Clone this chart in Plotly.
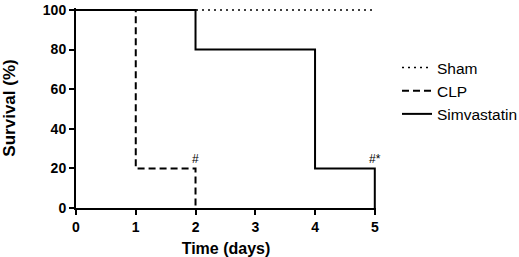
import plotly.graph_objects as go

# Data (step survival curves)
sham_days = [0, 5]
sham_surv = [100, 100]

clp_days = [0, 1, 2]
clp_surv = [100, 20, 0]

simva_days = [0, 2, 4, 5]
simva_surv = [100, 80, 20, 0]

x_ticks = [0, 1, 2, 3, 4, 5]
y_ticks = [0, 20, 40, 60, 80, 100]

marks = [("#", 2, 20), ("#*", 5, 20)]

FONT = "Liberation Sans, Arial, sans-serif"

fig = go.Figure()
fig.add_trace(go.Scatter(x=sham_days, y=sham_surv, mode="lines", name="Sham",
                         line=dict(color="black", width=1.5, dash="2px,4px", shape="hv")))
fig.add_trace(go.Scatter(x=clp_days, y=clp_surv, mode="lines", name="CLP",
                         line=dict(color="black", width=2, dash="7px,4px", shape="hv")))
fig.add_trace(go.Scatter(x=simva_days, y=simva_surv, mode="lines", name="Simvastatin",
                         line=dict(color="black", width=2, shape="hv")))

for txt, xv, yv in marks:
    fig.add_annotation(x=xv, y=yv, text=txt, showarrow=False, yanchor="bottom",
                       yshift=0, font=dict(family=FONT, size=12, color="black"))

fig.update_layout(
    width=519, height=257,
    margin=dict(l=76, r=143, t=8, b=49, autoexpand=False),
    plot_bgcolor="white", paper_bgcolor="white",
    font=dict(family=FONT, color="black"),
    showlegend=True,
    legend=dict(x=1.07, y=0.785, xanchor="left", yanchor="top",
                font=dict(family=FONT, size=15.5, color="black"),
                bgcolor="rgba(0,0,0,0)", tracegroupgap=0),
    xaxis=dict(range=[0, 5.02], tickvals=x_ticks, showgrid=False, zeroline=False,
               showline=True, linecolor="black", linewidth=2, automargin=True,
               ticks="outside", ticklen=5, tickwidth=2, tickcolor="black",
               tickfont=dict(family=FONT, size=14, weight="bold"),
               title=dict(text="Time (days)", standoff=10,
                          font=dict(family=FONT, size=16, weight="bold"))),
    yaxis=dict(range=[0, 101], tickvals=y_ticks, showgrid=False, zeroline=False,
               showline=True, linecolor="black", linewidth=2, automargin=True,
               ticks="outside", ticklen=5, tickwidth=2, tickcolor="black",
               tickfont=dict(family=FONT, size=14, weight="bold"),
               title=dict(text="Survival (%)", standoff=24,
                          font=dict(family=FONT, size=17, weight="bold"))),
)

fig.write_html("out.html", config={"responsive": False, "displayModeBar": False},
               post_script="document.body.style.margin='0';document.body.style.overflow='hidden';")
